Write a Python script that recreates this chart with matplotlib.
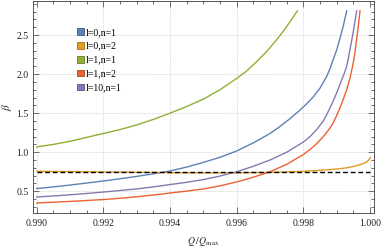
import numpy as np
import matplotlib
matplotlib.use("Agg")
import matplotlib.pyplot as plt
from matplotlib.patches import Patch
from matplotlib.colors import to_rgb
from matplotlib.ticker import MultipleLocator, FormatStrFormatter

plt.rcParams['font.family'] = ['Liberation Serif', 'DejaVu Serif']
plt.rcParams['mathtext.fontset'] = 'stix'

# values
q_l0n1 = [0.990, 0.9905, 0.991, 0.9915, 0.992, 0.9925, 0.993, 0.9935, 0.994, 0.9945,
          0.995, 0.9955, 0.996, 0.9965, 0.997, 0.9973, 0.9976, 0.9979, 0.9981, 0.9983,
          0.9985, 0.9987, 0.9988, 0.9989, 0.9990, 0.9991, 0.9992, 0.9993]
b_l0n1 = [0.535, 0.556, 0.58, 0.605, 0.632, 0.66, 0.69, 0.724, 0.76, 0.81,
          0.87, 0.935, 1.016, 1.12, 1.24, 1.33, 1.43, 1.54, 1.62, 1.71,
          1.82, 1.97, 2.07, 2.19, 2.31, 2.46, 2.62, 2.81]

q_l0n2 = [0.990, 0.991, 0.992, 0.993, 0.994, 0.995, 0.996, 0.997, 0.998, 0.9985,
          0.999, 0.9993, 0.9995, 0.9997, 0.9998, 0.9999, 0.99995, 0.99998, 1.000]
b_l0n2 = [0.756, 0.752, 0.748, 0.744, 0.738, 0.735, 0.735, 0.742, 0.755, 0.768,
          0.785, 0.80, 0.818, 0.84, 0.855, 0.875, 0.895, 0.912, 0.93]

q_l1n1 = [0.990, 0.9905, 0.991, 0.9915, 0.992, 0.9925, 0.993, 0.9935, 0.994, 0.9945,
          0.995, 0.9955, 0.996, 0.9963, 0.9966, 0.9969, 0.9972, 0.9974, 0.9976, 0.99782]
b_l1n1 = [1.068, 1.10, 1.14, 1.19, 1.24, 1.29, 1.35, 1.42, 1.50, 1.585,
          1.68, 1.80, 1.945, 2.04, 2.16, 2.29, 2.44, 2.55, 2.67, 2.81]

q_l1n2 = [0.990, 0.9905, 0.991, 0.9915, 0.992, 0.9925, 0.993, 0.9935, 0.994, 0.9945,
          0.995, 0.9955, 0.996, 0.9965, 0.997, 0.9975, 0.998, 0.9982, 0.9984, 0.9986,
          0.9988, 0.9989, 0.9990, 0.9991, 0.9992, 0.9993, 0.9994, 0.9995, 0.99955,
          0.9996, 0.99965, 0.9997]
b_l1n2 = [0.35, 0.36, 0.37, 0.382, 0.394, 0.41, 0.43, 0.452, 0.478, 0.502,
          0.53, 0.57, 0.62, 0.68, 0.75, 0.845, 0.97, 1.035, 1.11, 1.20,
          1.31, 1.38, 1.47, 1.57, 1.68, 1.80, 1.95, 2.15, 2.28,
          2.45, 2.62, 2.81]

q_l10n1 = [0.990, 0.9905, 0.991, 0.9915, 0.992, 0.9925, 0.993, 0.9935, 0.994, 0.9945,
           0.995, 0.9955, 0.996, 0.9965, 0.997, 0.9975, 0.998, 0.9982, 0.9984, 0.9986,
           0.9987, 0.9988, 0.9989, 0.9990, 0.9991, 0.99922, 0.9993, 0.99935, 0.9994,
           0.99945, 0.9995, 0.99955, 0.9996]
b_l10n1 = [0.427, 0.44, 0.455, 0.472, 0.49, 0.51, 0.53, 0.556, 0.586, 0.615,
           0.65, 0.695, 0.75, 0.82, 0.90, 1.00, 1.13, 1.20, 1.29, 1.40,
           1.48, 1.57, 1.66, 1.76, 1.87, 2.0, 2.1, 2.2, 2.32,
           2.43, 2.55, 2.68, 2.81]

ref_q = [0.990, 1.000]
ref_b = [0.75, 0.75]

labels = ['l=0,n=1', 'l=0,n=2', 'l=1,n=1', 'l=1,n=2', 'l=10,n=1']
colors = ['#5e81b5', '#e19c24', '#8fb032', '#eb6235', '#8778b3']
series = [(q_l0n1, b_l0n1), (q_l0n2, b_l0n2), (q_l1n1, b_l1n1),
          (q_l1n2, b_l1n2), (q_l10n1, b_l10n1)]

fig = plt.figure(figsize=(3.82, 2.47), dpi=100)
ax = fig.add_axes([0.0856, 0.1377, 0.8935, 0.8595])

for (q, b), c in zip(series, colors):
    ax.plot(q, b, color=c, lw=1.0, zorder=3)
ax.plot(ref_q, ref_b, color='black', lw=1.0, dashes=(3.5, 2), zorder=4)

ax.set_xlim(0.98988, 1.00012)
ax.set_ylim(0.222, 2.94)

ax.xaxis.set_major_locator(MultipleLocator(0.002))
ax.xaxis.set_minor_locator(MultipleLocator(0.0005))
ax.yaxis.set_major_locator(MultipleLocator(0.5))
ax.yaxis.set_minor_locator(MultipleLocator(0.1))
ax.xaxis.set_major_formatter(FormatStrFormatter('%.3f'))
ax.yaxis.set_major_formatter(FormatStrFormatter('%.1f'))

frame = '#555555'
ax.tick_params(which='both', direction='in', top=True, right=True,
               color=frame, labelsize=7, labelcolor='#222222', width=0.6)
ax.tick_params(which='major', length=4)
ax.tick_params(axis='x', which='major', pad=4.5)
ax.tick_params(axis='y', which='major', pad=3)
ax.tick_params(which='minor', length=2.2)
for s in ax.spines.values():
    s.set_color(frame)
    s.set_linewidth(0.7)

ax.grid(which='major', color='#c8c8c8', lw=0.6, linestyle=(0, (1, 1.5)))

ax.set_xlabel(r'$Q\;/Q_{\rm max}$', fontsize=7, color='#222222', labelpad=5)
ax.set_ylabel(r'$\beta$', fontsize=8, color='#222222')
ax.yaxis.set_label_coords(-0.055, 0.5)

handles = [Patch(facecolor=c, edgecolor=tuple(np.array(to_rgb(c)) * 0.7), lw=0.6)
           for c in colors]
ax.legend(handles, labels, loc='upper left', bbox_to_anchor=(0.2008, 0.887),
          bbox_transform=fig.transFigure, frameon=False, fontsize=7,
          handlelength=0.7, handleheight=0.7, handletextpad=0.25,
          labelspacing=0.5, borderpad=0, borderaxespad=0)

fig.savefig('out.png', dpi=100)
